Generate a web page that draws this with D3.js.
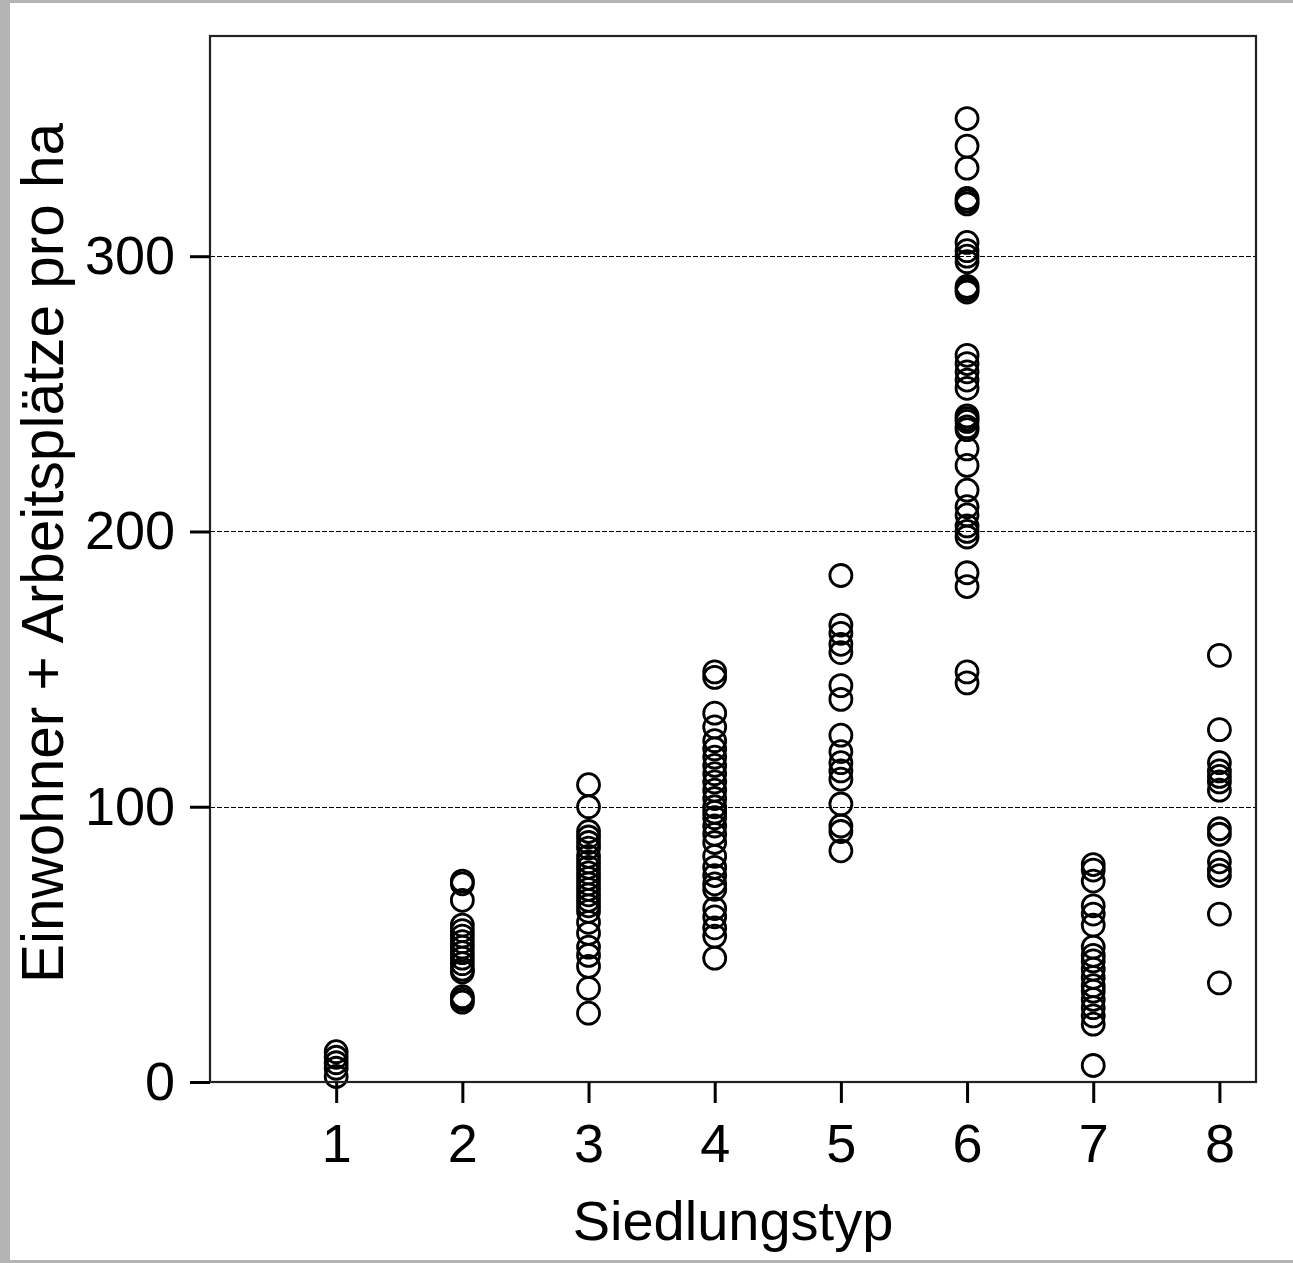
<!DOCTYPE html>
<html>
<head>
<meta charset="utf-8">
<script src="https://cdn.jsdelivr.net/npm/d3@7"></script>
<style>
  html, body { margin: 0; padding: 0; background: #fff; }
  svg text { font-family: "Liberation Sans", Arial, sans-serif; fill: #000; }
</style>
</head>
<body>
<div id="chart"></div>
<script>
// Siedlungstyp categories and the values
var types = [1, 2, 3, 4, 5, 6, 7, 8];
var type1 = [11, 9, 7, 5, 2];
var type2 = [73, 72, 66, 57, 55, 53, 51, 49, 47, 45, 43, 41, 40, 31, 30, 29];
var type3 = [108, 100, 91, 89, 87, 85, 82, 80, 78, 76, 74, 72, 70, 68, 66, 64, 62, 58, 54, 49, 46, 42, 34, 25];
var type4 = [149, 147, 134, 129, 124, 121, 118, 115, 112, 109, 106, 103, 100, 98, 96, 93, 90, 87, 82, 78, 75, 72, 70, 63, 60, 56, 53, 45];
var type5 = [184, 166, 163, 159, 156, 144, 139, 126, 120, 116, 113, 110, 101, 93, 91, 84];
var type6 = [350, 340, 332, 321, 320, 319, 305, 302, 300, 298, 289, 288, 287, 264, 261, 258, 255, 252,
             242, 241, 240, 238, 237, 230, 224, 215, 209, 206, 202, 200, 198, 185, 180, 149, 145];
var type7 = [79, 77, 73, 64, 61, 57, 49, 46, 44, 41, 38, 35, 33, 30, 27, 24, 21, 6];
var type8 = [155, 128, 116, 113, 111, 109, 106, 92, 90, 80, 77, 75, 61, 36];
var yTicks = [0, 100, 200, 300];
var gridValues = [100, 200, 300];

var svgWidth = 1293;
var svgHeight = 1263;

// plot box in page pixels
var plot = { left: 210, top: 36, right: 1256, bottom: 1082 };

var svg = d3.select("#chart")
  .append("svg")
  .attr("width", svgWidth)
  .attr("height", svgHeight);

// gray frame around the picture (left, top, bottom)
svg.append("rect").attr("x", 0).attr("y", 0).attr("width", svgWidth).attr("height", svgHeight).attr("fill", "#b4b4b4");
svg.append("rect").attr("x", 10).attr("y", 3).attr("width", svgWidth - 10).attr("height", svgHeight - 6).attr("fill", "#fff");

var x = d3.scaleLinear().domain([0, 8.29]).range([plot.left, plot.right]);
var y = d3.scaleLinear().domain([0, 380]).range([plot.bottom, plot.top]);

// dashed reference lines
svg.append("g").selectAll("line")
  .data(gridValues)
  .enter()
  .append("line")
  .attr("x1", plot.left)
  .attr("x2", plot.right)
  .attr("y1", d => Math.round(y(d)) + 0.5)
  .attr("y2", d => Math.round(y(d)) + 0.5)
  .attr("stroke", "#000")
  .attr("stroke-width", 1.2)
  .attr("stroke-dasharray", "5,2");

// points, one group per type
var allSeries = [type1, type2, type3, type4, type5, type6, type7, type8];
var points = [];
allSeries.forEach(function(vals, i) {
  vals.forEach(function(v) { points.push({ type: types[i], value: v }); });
});

svg.append("g").selectAll("circle")
  .data(points)
  .enter()
  .append("circle")
  .attr("cx", d => x(d.type))
  .attr("cy", d => y(d.value))
  .attr("r", 11)
  .attr("fill", "none")
  .attr("stroke", "#000")
  .attr("stroke-width", 2.8);

// plot frame
svg.append("rect")
  .attr("x", plot.left)
  .attr("y", plot.top)
  .attr("width", plot.right - plot.left)
  .attr("height", plot.bottom - plot.top)
  .attr("fill", "none")
  .attr("stroke", "#222")
  .attr("stroke-width", 2.2);

// axes
var leftAxis = d3.axisLeft(y).tickValues(yTicks).tickSize(20).tickPadding(15).tickFormat(d3.format("d"));
var bottomAxis = d3.axisBottom(x).tickValues(types).tickSize(21).tickPadding(21).tickFormat(d3.format("d"));

var yAxis = svg.append("g")
  .attr("transform", `translate(${plot.left}, 0)`)
  .call(leftAxis);

var xAxis = svg.append("g")
  .attr("transform", `translate(0, ${plot.bottom})`)
  .call(bottomAxis);

[yAxis, xAxis].forEach(function(ax) {
  ax.select(".domain").remove();
  ax.selectAll(".tick line").attr("stroke", "#000").attr("stroke-width", 3);
  ax.selectAll(".tick text").style("font-size", "54px").attr("fill", "#000");
});

// axis titles
svg.append("text")
  .attr("x", (plot.left + plot.right) / 2)
  .attr("y", 1240)
  .attr("text-anchor", "middle")
  .style("font-size", "56px")
  .text("Siedlungstyp");

svg.append("text")
  .attr("transform", `translate(63, ${(plot.top + plot.bottom) / 2 - 6}) rotate(-90)`)
  .attr("text-anchor", "middle")
  .style("font-size", "58.5px")
  .text("Einwohner + Arbeitsplätze pro ha");
</script>
</body>
</html>
